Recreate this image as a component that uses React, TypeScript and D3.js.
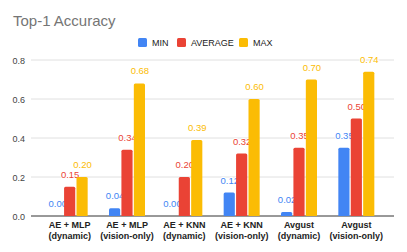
import React from "react";
import * as d3 from "d3";

const categories = [
  ["AE + MLP", "(dynamic)"],
  ["AE + MLP", "(vision-only)"],
  ["AE + KNN", "(dynamic)"],
  ["AE + KNN", "(vision-only)"],
  ["Avgust", "(dynamic)"],
  ["Avgust", "(vision-only)"],
];
const seriesNames = ["MIN", "AVERAGE", "MAX"];
const minValues = [0.0, 0.04, 0.0, 0.12, 0.02, 0.35];
const avgValues = [0.15, 0.34, 0.2, 0.32, 0.35, 0.5];
const maxValues = [0.2, 0.68, 0.39, 0.6, 0.7, 0.74];
const yTicks = [0, 0.2, 0.4, 0.6, 0.8];

const colors = ["#4285F4", "#EA4335", "#FBBC04"];
const font = "'Liberation Sans', Arial, sans-serif";

const W = 407;
const H = 252;

const App = () => {
  const series = [minValues, avgValues, maxValues];

  const x = d3
    .scaleBand<number>()
    .domain(d3.range(categories.length))
    .range([41, 385]);
  const inner = d3
    .scaleBand<number>()
    .domain([0, 1, 2])
    .range([-18, 18])
    .paddingInner(0.1);
  const y = d3.scaleLinear().domain([0, 0.8]).range([216, 60]);

  const legendX = [138, 177, 239];

  return (
    <svg
      width={W}
      height={H}
      style={{ position: "absolute", left: 0, top: 0, background: "#fff" }}
      fontFamily={font}
    >
      <text x={13} y={26} fontSize={15} fill="#757575">
        Top-1 Accuracy
      </text>

      {/* legend */}
      {seriesNames.map((s, i) => (
        <g key={s} transform={`translate(${legendX[i]},38)`}>
          <rect width={9} height={9} rx={1.5} fill={colors[i]} />
          <text x={14} y={8} fontSize={9} fill="#222">
            {s}
          </text>
        </g>
      ))}

      {/* grid */}
      {yTicks.map((t) => (
        <g key={t}>
          <line
            x1={31}
            x2={394}
            y1={y(t)}
            y2={y(t)}
            stroke={t === 0 ? "#333" : "#e0e0e0"}
            strokeWidth={1}
          />
          <text
            x={25}
            y={y(t) + 3.5}
            textAnchor="end"
            fontSize={9}
            fill="#444"
          >
            {t.toFixed(1)}
          </text>
        </g>
      ))}

      {/* bars */}
      {categories.map((c, ci) => {
        const cx = x(ci)! + x.bandwidth() / 2;
        return (
          <g key={ci} transform={`translate(${cx},0)`}>
            {series.map((vals, si) => {
              const v = vals[ci];
              const bx = inner(si)!;
              const bw = inner.bandwidth();
              return (
                <g key={si}>
                  {v > 0 && (
                    <path
                      d={`M${bx},${y(0)}V${y(v) + 1.5}Q${bx},${y(v)} ${bx + 1.5},${y(v)}H${bx + bw - 1.5}Q${bx + bw},${y(v)} ${bx + bw},${y(v) + 1.5}V${y(0)}Z`}
                      fill={colors[si]}
                    />
                  )}
                  <text
                    x={bx + bw / 2 + 0.5}
                    y={y(v) - 9}
                    textAnchor="middle"
                    fontSize={9.5}
                    fill={colors[si]}
                    stroke="#fff"
                    strokeWidth={2}
                    paintOrder="stroke"
                  >
                    {v.toFixed(2)}
                  </text>
                </g>
              );
            })}
            <text
              y={228}
              textAnchor="middle"
              fontSize={9}
              fontWeight="bold"
              fill="#222"
            >
              <tspan x={0}>{c[0]}</tspan>
              <tspan x={0} dy={10.5}>
                {c[1]}
              </tspan>
            </text>
          </g>
        );
      })}
    </svg>
  );
};

export default App;
